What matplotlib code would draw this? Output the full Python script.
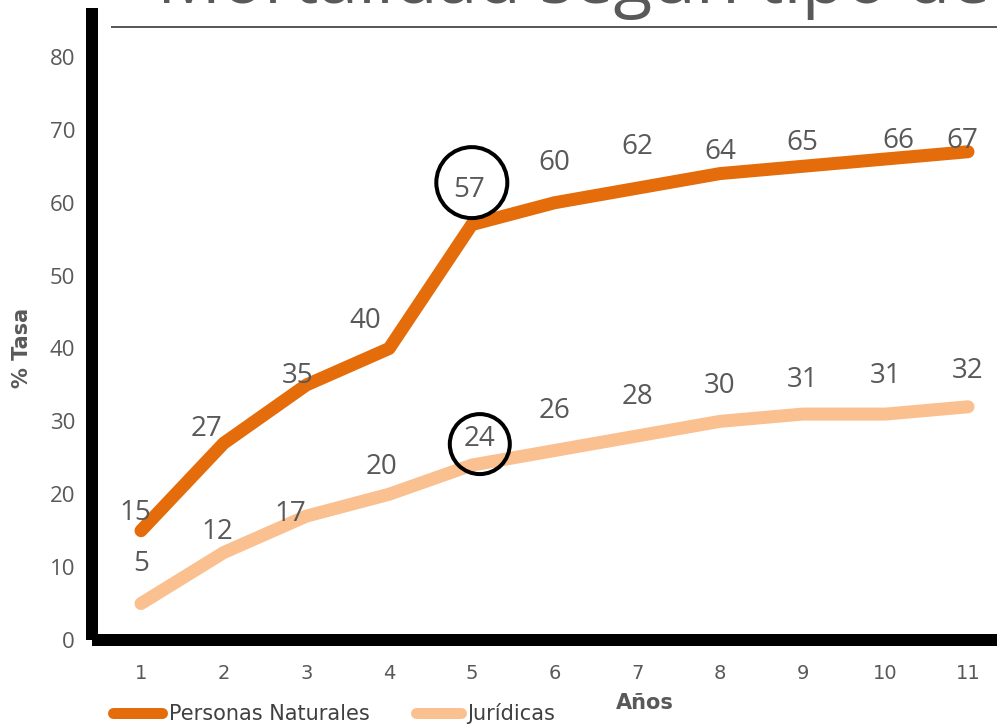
import matplotlib
matplotlib.use("Agg")
import matplotlib.pyplot as plt
from matplotlib import font_manager as fm
from matplotlib.lines import Line2D
from matplotlib.patches import Circle
import matplotlib.transforms as mtransforms

# ---- data -------------------------------------------------------------
years = [1, 2, 3, 4, 5, 6, 7, 8, 9, 10, 11]
personas_naturales = [15, 27, 35, 40, 57, 60, 62, 64, 65, 66, 67]
juridicas = [5, 12, 17, 20, 24, 26, 28, 30, 31, 31, 32]
y_ticks = [0, 10, 20, 30, 40, 50, 60, 70, 80]
series_names = ["Personas Naturales", "Jurídicas"]
title_text = "Mortalidad según tipo de"
x_label = "Años"
y_label = "% Tasa"
highlight_year = 5

# ---- styling ----------------------------------------------------------
ORANGE = "#E46C0A"
PEACH = "#FAC090"
GRAY = "#595959"

available = {f.name for f in fm.fontManager.ttflist}
NARROW = ["Liberation Sans Narrow", "DejaVu Sans"] if "Liberation Sans Narrow" in available else ["DejaVu Sans"]
ROUND = ["Open Sans", "DejaVu Sans"]

W, H, DPI = 997, 724, 100
px = 72.0 / DPI  # points per pixel

fig = plt.figure(figsize=(W / DPI, H / DPI), dpi=DPI)
fig.patch.set_facecolor("white")

# plotting area: left spine at x=92 px, zero line at y=640 px
ax_left, ax_bottom = 92, 640
ax_width, ax_top = W - ax_left, 8
ax = fig.add_axes([ax_left / W, (H - ax_bottom) / H, ax_width / W, (ax_bottom - ax_top) / H])

x_unit = (968 - 141) / 10.0
y_unit = (640 - 57) / 80.0
x0 = 1 - (141 - ax_left) / x_unit
ax.set_xlim(x0, x0 + ax_width / x_unit)
ax.set_ylim(0, (ax_bottom - ax_top) / y_unit)

line_kw = dict(lw=13 * px, solid_capstyle="round", solid_joinstyle="round")
ax.plot(years, juridicas, color=PEACH, zorder=3, **line_kw)
ax.plot(years, personas_naturales, color=ORANGE, zorder=4, **line_kw)

for side in ("top", "right"):
    ax.spines[side].set_visible(False)
for side in ("left", "bottom"):
    ax.spines[side].set_linewidth(12 * px)
    ax.spines[side].set_color("black")
    ax.spines[side].set_capstyle("butt")

ax.set_yticks(y_ticks)
ax.set_xticks(years)
ax.tick_params(axis="y", length=0, pad=17 * px, labelsize=16, labelcolor=GRAY)
ax.tick_params(axis="x", length=0, pad=24 * px, labelsize=14, labelcolor=GRAY)
for lab in ax.get_yticklabels():
    lab.set_family(ROUND)
for lab in ax.get_xticklabels():
    lab.set_family(NARROW)

# value labels (offsets in pixels from each point)
pn_offsets = [(-6, 18), (-17, 14), (-9, 9), (-24, 28), (-3, 35), (0, 40),
              (0, 41), (0, 22), (0, 23), (13, 18), (-6, 11)]
ju_offsets = [(0, 40), (-6, 21), (-16, 2), (-8, 27), (8, 26), (0, 40),
              (0, 39), (0, 35), (0, 34), (0, 38), (0, 36)]
for values, offs in ((personas_naturales, pn_offsets), (juridicas, ju_offsets)):
    for x, v, (dx, dy) in zip(years, values, offs):
        ax.annotate(str(v), (x, v), xytext=(dx, dy), textcoords="offset pixels",
                    ha="center", va="center", fontsize=20, color=GRAY,
                    family=ROUND, zorder=6)

# rings around the year-5 values
idx = years.index(highlight_year)
for values, (dx, dy), r in ((personas_naturales, (0, 42), 35.5),
                            (juridicas, (8, 21), 30)):
    cx, cy = ax.transData.transform((years[idx], values[idx]))
    ring = Circle((cx + dx, cy + dy), r, fill=False, ec="black", lw=4 * px,
                  transform=mtransforms.IdentityTransform(), zorder=7)
    fig.add_artist(ring)

# title (partly above the canvas) and rule under it
title = fig.text(157 / W, 1 - 3 / H, title_text, ha="left", va="baseline",
                 fontsize=50, color=GRAY, family=ROUND)
fig.canvas.draw()
bb = title.get_window_extent(fig.canvas.get_renderer())
title.set_fontsize(50 * 833 / bb.width)
fig.add_artist(Line2D([112 / W, 1.0], [1 - 27 / H] * 2, color=GRAY, lw=2 * px))

# axis titles
fig.text(22 / W, 1 - 348 / H, y_label, rotation=90, ha="center", va="center",
         fontsize=15, fontweight="bold", color=GRAY, family=NARROW)
fig.text(645 / W, 1 - 703 / H, x_label, ha="center", va="center",
         fontsize=15, fontweight="bold", color=GRAY, family=NARROW)

# legend
legend_y = 1 - 713 / H
for (x_a, x_b, x_t), color, name in (((112.5, 161.5, 169), ORANGE, series_names[0]),
                                     ((415.5, 460.5, 467), PEACH, series_names[1])):
    fig.add_artist(Line2D([x_a / W, x_b / W], [legend_y] * 2, color=color,
                          lw=11 * px, solid_capstyle="round"))
    fig.text(x_t / W, 1 - 720 / H, name, ha="left", va="baseline",
             fontsize=15, color="#404040", family=NARROW)

fig.savefig("out.png", dpi=DPI)
